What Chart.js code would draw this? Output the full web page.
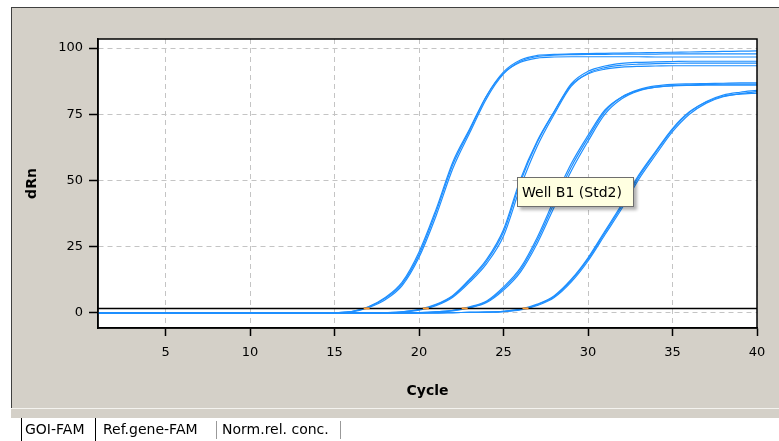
<!DOCTYPE html>
<html>
<head>
<meta charset="utf-8">
<script src="https://cdn.jsdelivr.net/npm/chart.js@4/dist/chart.umd.min.js"></script>
<style>
body { margin:0; width:779px; height:441px; background:#fff; position:relative; overflow:hidden; font-family:"DejaVu Sans", sans-serif; }
#panel { position:absolute; left:11px; top:7px; width:768px; height:400px; background:#d4d0c8; border-top:1px solid #404040; border-left:1px solid #404040; }
#strip { position:absolute; left:11px; top:408px; width:768px; height:9px; background:#d4d0c8; border-top:1px solid #f4f3ef; }
#chart { position:absolute; left:0; top:0; }
.tab { position:absolute; top:418px; height:23px; line-height:23px; font-size:14px; color:#000; white-space:nowrap; }
#tip { position:absolute; left:517px; top:177px; width:111px; height:28px; background:#ffffe1; border:1px solid #6e6e6e; box-shadow:3px 3px 3px rgba(0,0,0,0.3); font-size:14px; line-height:28px; padding-left:4px; color:#000; }
</style>
</head>
<body>
<div id="panel"></div>
<div id="strip"></div>
<canvas id="chart" width="779" height="441"></canvas>
<div class="tab" style="left:21px;width:75px;border-left:1px solid #000;border-right:1px solid #000;padding-left:3px;box-sizing:border-box;">GOI-FAM</div>
<div class="tab" style="left:103px;">Ref.gene-FAM</div>
<div class="tab" style="left:216px;width:1px;background:#999;top:421px;height:18px;"></div>
<div class="tab" style="left:222px;">Norm.rel. conc.</div>
<div class="tab" style="left:340px;width:1px;background:#999;top:421px;height:18px;"></div>
<div id="tip">Well B1 (Std2)</div>
<script>
// amplification curves, cycles 1..40 (3 replicates per standard)
const cycles = [1,2,3,4,5,6,7,8,9,10,11,12,13,14,15,16,17,18,19,20,21,22,23,24,25,26,27,28,29,30,31,32,33,34,35,36,37,38,39,40];

const std1a = [0,0,0,0,0,0,0,0,0,0,0,0,0,0,0.1, 0.5,2.2,5.5,11,22, 38,56,69,82,91, 95.5,97.2,97.6,97.8,97.9, 98,98.1,98.2,98.3,98.4, 98.5,98.6,98.7,98.8,98.9];
const std1b = [0,0,0,0,0,0,0,0,0,0,0,0,0,0,0.1, 0.4,2.0,5.0,10.3,21, 36.5,54.5,68,81,90.2, 95,96.8,97.3,97.5,97.6, 97.6,97.7,97.7,97.7,97.8, 97.8,97.8,97.8,97.8,97.8];
const std1c = [0,0,0,0,0,0,0,0,0,0,0,0,0,0,0.1, 0.5,2.3,5.8,11.6,23, 39,57,69.5,82,90.5, 94.6,96.2,96.6,96.7,96.7, 96.7,96.7,96.7,96.6,96.6, 96.6,96.6,96.6,96.6,96.6];

const std2a = [0,0,0,0,0,0,0,0,0,0,0,0,0,0,0,0,0,0.1,0.4, 1.2,3,6.3,12.3,19.5,30.5,49.5,64.5,76,86.5,91.2,93.2,94.2,94.6,94.8,94.9,95,95,95,95,95];
const std2b = [0,0,0,0,0,0,0,0,0,0,0,0,0,0,0,0,0,0.1,0.3, 1.0,2.7,5.9,11.6,18.6,29,47.5,63,75,85.5,90.5,92.6,93.5,93.9,94.1,94.2,94.3,94.3,94.3,94.3,94.3];
const std2c = [0,0,0,0,0,0,0,0,0,0,0,0,0,0,0,0,0,0.1,0.4, 1.3,3.2,6.6,12.8,20.2,31.5,50.5,65,76,86,90.2,92,92.8,93.1,93.2,93.3,93.3,93.3,93.3,93.3,93.3];

const std3a = [0,0,0,0,0,0,0,0,0,0,0,0,0,0,0,0,0,0,0,0.1,0.4, 0.9,2.1,4.2,9.2,16.2,27.5,41.5,55,66,76,81.5,84.3,85.7,86.3,86.5,86.6,86.7,86.8,86.8];
const std3b = [0,0,0,0,0,0,0,0,0,0,0,0,0,0,0,0,0,0,0,0.1,0.3, 0.8,1.9,3.9,8.6,15.4,26.3,40,53.5,64.8,75,80.8,83.8,85.2,85.8,86.1,86.3,86.4,86.4,86.4];
const std3c = [0,0,0,0,0,0,0,0,0,0,0,0,0,0,0,0,0,0,0,0.1,0.4, 1.0,2.3,4.5,9.8,17,28.6,42.8,56.3,67,76.6,81.5,84,85.2,85.7,85.9,86,86,86,86];

const std4a = [0,0,0,0,0,0,0,0,0,0,0,0,0,0,0,0,0,0,0,0,0,0.1,0.2, 0.3,0.6,1.3,3.1,6.2,12.2,20.3,30.3,40.3,51.3,60.5,69.2,75.7,79.8,82.2,83.3,84];
const std4b = [0,0,0,0,0,0,0,0,0,0,0,0,0,0,0,0,0,0,0,0,0,0.1,0.2, 0.3,0.5,1.1,2.8,5.8,11.6,19.6,29.5,39.4,50.4,59.6,68.4,75,79.2,81.6,82.8,83.5];
const std4c = [0,0,0,0,0,0,0,0,0,0,0,0,0,0,0,0,0,0,0,0,0,0.1,0.2, 0.3,0.6,1.4,3.3,6.5,12.6,20.8,30.9,41,52,61,69.6,75.9,79.6,81.8,82.6,83];

const threshold = 1.7;
const ctValues = [16.9, 20.4, 22.7, 26.3];

const xTicks = [5,10,15,20,25,30,35,40];
const yTicks = [0,25,50,75,100];

const curves = [std1a,std1b,std1c,std2a,std2b,std2c,std3a,std3b,std3c,std4a,std4b,std4c];

const curveSets = curves.map(arr => ({
    type: 'line',
    data: arr.map((v, i) => ({x: cycles[i], y: v})),
    borderColor: '#1e8fff',
    borderWidth: 1.2,
    pointRadius: 0,
    cubicInterpolationMode: 'monotone'
}));

// white plot background + black frame
const frame = {
    id: 'frame',
    beforeDraw(chart) {
        const a = chart.chartArea, c = chart.ctx;
        c.save();
        c.fillStyle = '#fff';
        c.fillRect(a.left, a.top, a.right - a.left, a.bottom - a.top);
        c.restore();
    },
    afterDraw(chart) {
        const a = chart.chartArea, c = chart.ctx;
        c.save();
        c.strokeStyle = '#000';
        c.lineWidth = 1.5;
        c.strokeRect(a.left, a.top, a.right - a.left, a.bottom - a.top);
        c.restore();
    }
};

const ctx = document.getElementById('chart').getContext('2d');
new Chart(ctx, {
    type: 'line',
    data: {
        datasets: [
            {
                type: 'scatter',
                data: ctValues.map(x => ({x: x, y: threshold})),
                pointStyle: 'line',
                pointRadius: 3,
                borderColor: '#ff9a2e',
                backgroundColor: '#ff9a2e',
                pointBorderWidth: 2
            },
            {
                type: 'line',
                data: [{x: 1, y: threshold}, {x: 40, y: threshold}],
                borderColor: '#000',
                borderWidth: 1.5,
                pointRadius: 0
            },
            ...curveSets
        ]
    },
    options: {
        responsive: false,
        animation: false,
        events: [],
        layout: { padding: { left: 0, right: 22, top: 39, bottom: 33 } },
        plugins: { legend: { display: false }, tooltip: { enabled: false } },
        scales: {
            x: {
                type: 'linear',
                min: 1,
                max: 40,
                afterFit: s => { s.height = 80; },
                afterBuildTicks: s => { s.ticks = xTicks.map(v => ({value: v})); },
                ticks: { color: '#000', font: { family: 'DejaVu Sans', size: 13 }, padding: 9, maxRotation: 0 },
                grid: { color: '#c4c4c4', tickColor: '#000', tickLength: 8, tickWidth: 1.5 },
                border: { color: '#000', width: 1.5, dash: [5, 4] },
                title: { display: true, text: 'Cycle', color: '#000', font: { family: 'DejaVu Sans', size: 14, weight: 'bold' }, padding: { top: 0, bottom: 8 } }
            },
            y: {
                min: -5.7,
                max: 103.4,
                afterFit: s => { s.width = 98; },
                afterBuildTicks: s => { s.ticks = yTicks.map(v => ({value: v})); },
                ticks: { color: '#000', font: { family: 'DejaVu Sans', size: 13 }, padding: 6 },
                grid: { color: '#c4c4c4', tickColor: '#000', tickLength: 9, tickWidth: 1.5 },
                border: { color: '#000', width: 1.5, dash: [5, 4] },
                title: { display: true, text: 'dRn', color: '#000', font: { family: 'DejaVu Sans', size: 14, weight: 'bold' }, padding: { top: 24, bottom: 0 } }
            }
        }
    },
    plugins: [frame]
});
</script>
</body>
</html>
